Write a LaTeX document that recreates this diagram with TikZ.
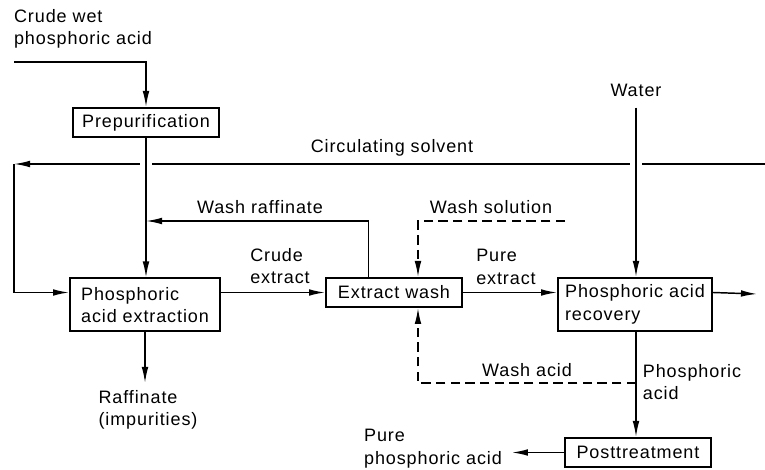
\documentclass[tikz,border=0pt]{standalone}
\usepackage{fontspec}
\setmainfont[LetterSpace=5]{Liberation Sans}
\usetikzlibrary{arrows.meta}
\usetikzlibrary{positioning}

\tikzset{
	unit/.style={draw,line width=1.5pt,inner xsep=5pt,inner ysep=0pt,align=left},
	lbl/.style={align=left,inner sep=2pt},
	gap/.style={draw=white,line width=9pt,shorten >=4pt,shorten <=4pt},
	washline/.style={dash pattern=on 7pt off 4pt}
}

\begin{document}
\begin{tikzpicture}[x=0.75pt,y=-0.75pt,line width=1.1pt,>={Latex[length=12pt,width=5pt]},font=\fontsize{13.5}{17}\selectfont]
	\useasboundingbox (0,0) rectangle (765,470);
	% process units
	\node[unit,minimum width=109.5pt,minimum height=21.75pt] (prepur) at (146,122.5) {Prepurification};
	\node[unit,minimum width=112.5pt,minimum height=39.75pt] (extraction) at (145,305) {Phosphoric\\acid extraction};
	\node[unit,minimum width=102pt,minimum height=21.75pt] (wash) at (394,292.5) {Extract wash};
	\node[unit,minimum width=115.5pt,minimum height=39.75pt] (recovery) at (635,304.5) {Phosphoric acid\\recovery};
	\node[unit,minimum width=109.5pt,minimum height=21.75pt] (post) at (638,452.5) {Posttreatment};
	% stream labels
	\node[lbl] (lcrude) at (83,29) {Crude wet\\phosphoric acid};
	\node[lbl,inner ysep=8pt] (lwater) at (636,90) {Water};
	\node[lbl] (lcirc) at (392,148) {Circulating solvent};
	\node[lbl] (lraff) at (260,207) {Wash raffinate};
	\node[lbl] (lwashsol) at (491,207) {Wash solution};
	\node[lbl] (lcrudeext) at (280,266) {Crude\\extract};
	\node[lbl] (lpureext) at (506,267) {Pure\\extract};
	\node[lbl] (lwashacid) at (527,370) {Wash acid};
	\node[lbl] (lphos) at (692,382) {Phosphoric\\acid};
	\node[lbl,inner ysep=5pt] (lraffinate) at (148,410) {Raffinate\\(impurities)};
	\node[lbl,inner xsep=7pt] (lpure) at (433,449) {Pure\\phosphoric acid};
	% free ends and junctions
	\coordinate (feed) at (14,62);
	\coordinate (circin) at (765,164);
	\coordinate (circcorner) at (14,164);
	\coordinate (washsol) at (565,221);
	\coordinate (split) at (636,383);
	\coordinate (recout) at (757,294);
	% circulating solvent, broken where the feed lines cross it
	\draw[->] (circin) -- (circcorner);
	\draw[->] (circcorner) |- (extraction.west |- wash.west);
	\draw[gap] (prepur.south) -- (extraction.north -| prepur.south);
	\draw[gap] (lwater.south) -- (lwater.south |- recovery.north);
	% main streams
	\draw[->] (feed) -| (prepur.north);
	\draw[->] (prepur.south) -- (extraction.north -| prepur.south);
	\draw[->] (lwater.south) -- (lwater.south |- recovery.north);
	\path[->]
	(extraction.east |- wash.west)	edge	(wash.west)
	(wash.east)	edge	(wash.east -| recovery.west)
	(wash.east -| recovery.east)	edge	(recout)
	(lwater.south |- recovery.south)	edge	(lwater.south |- post.north)
	(extraction.south)	edge	(extraction.south |- lraffinate.north)
	(post.west)	edge	(post.west -| lpure.east);
	\draw[->] ([xshift=-19pt]wash.north) |- (prepur.south |- washsol);
	% wash circuit
	\draw[->,washline] (washsol) -| ([xshift=18pt]wash.north);
	\draw[->,washline] (split) -| ([xshift=18pt]wash.south);
\end{tikzpicture}
\end{document}
